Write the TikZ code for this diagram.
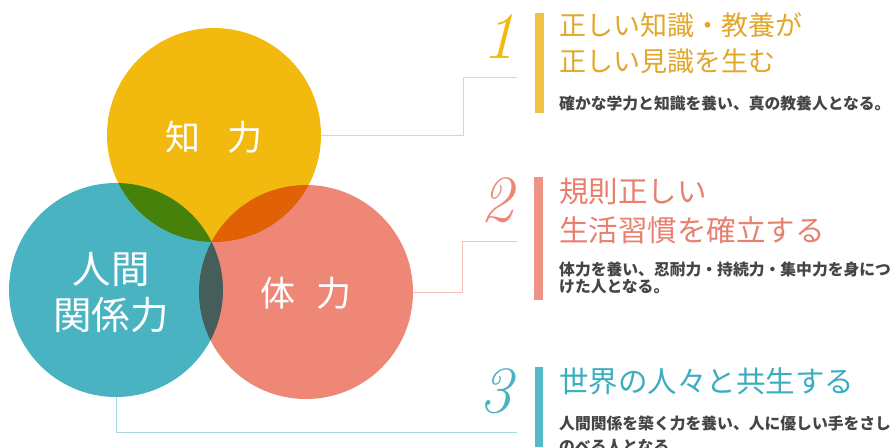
\documentclass[tikz,border=0pt]{standalone}
\usepackage{fontspec}
\newfontfamily\jp{Noto Sans CJK JP}
\usetikzlibrary{positioning}

\definecolor{kiiro}{HTML}{F2B90F}
\definecolor{kiirotext}{HTML}{E2A62A}
\definecolor{kiirobar}{HTML}{F1C242}
\definecolor{kiiroline}{HTML}{F2D490}
\definecolor{sake}{HTML}{EE8776}
\definecolor{saketext}{HTML}{E87F6F}
\definecolor{sakebar}{HTML}{EF9484}
\definecolor{sakeline}{HTML}{F5C1B6}
\definecolor{ao}{HTML}{4AB3C1}
\definecolor{aotext}{HTML}{3AAEBF}
\definecolor{aobar}{HTML}{58B9C6}
\definecolor{aoline}{HTML}{A9D9DF}
\definecolor{desctext}{HTML}{454545}

\begin{document}
\begin{tikzpicture}[x=1pt, y=-1pt]
	\tikzstyle{circ}=[circle, minimum size=214pt, inner sep=0pt]
	\tikzstyle{lbl}=[text=white, align=center, font=\jp\fontsize{35}{47}\selectfont]
	\tikzstyle{num}=[font=\fontsize{66}{66}\selectfont\itshape]
	\tikzstyle{head}=[anchor=north west, align=left, inner sep=0pt, font=\jp\fontsize{28}{37}\selectfont]
	\tikzstyle{desc}=[anchor=north west, align=left, inner sep=0pt, text=desctext]
	\tikzstyle{link}=[line width=1pt]
	\tikzstyle{bar}=[line width=8.5pt]

	\useasboundingbox (0,0) rectangle (896,447);

	% Circles
	\begin{scope}[blend group=multiply]
		\node at (214, 135) [circ, fill=kiiro] (chi) {};
		\node at (116, 290) [circ, fill=ao] (ningen) {};
		\node at (306, 292) [circ, fill=sake] (tai) {};
	\end{scope}
	\node at (chi) [lbl, yshift=-2pt] {知\hspace{0.75em}力};
	\node at (ningen) [lbl, xshift=-5pt, yshift=-3pt, font=\jp\fontsize{38.5}{46}\selectfont] {人間\\関係力};
	\node at (tai) [lbl, yshift=-1pt] {体\hspace{0.6em}力};

	% Links
	\coordinate (k1) at (463, 77);
	\coordinate (k2) at (517, 77);
	\coordinate (s1) at (462, 241);
	\coordinate (s2) at (517, 241);
	\coordinate (a1) at (517, 432);
	\draw [link, kiiroline] (chi.east) -| (k1) -- (k2);
	\draw [link, sakeline] (tai.east) -| (s1) -- (s2);
	\draw [link, aoline] (ningen.south) |- (a1);

	% Numbers and bars
	\node at (499, 37) [num, text=kiiro] (one) {1};
	\node at (497, 200) [num, text=sake] (two) {2};
	\node at (496, 391) [num, text=ao] (three) {3};
	\draw [bar, kiirobar] (539.5, 13) -- (539.5, 113);
	\draw [bar, sakebar] (538.5, 177) -- (538.5, 300);
	\draw [bar, aobar] (539, 367) -- (539, 447);

	% Texts
	\node at (559, 12) [head, text=kiirotext, font=\jp\fontsize{27}{36}\selectfont] (h1) {正しい知識・教養が\\正しい見識を生む};
	\node at (559, 96) [desc, font=\jp\bfseries\fontsize{15.8}{17}\selectfont] (d1) {確かな学力と知識を養い、真の教養人となる。};
	\node at (559, 178) [head, text=saketext, font=\jp\fontsize{29.5}{39}\selectfont] (h2) {規則正しい\\生活習慣を確立する};
	\node at (559, 262) [desc, font=\jp\bfseries\fontsize{15.8}{17}\selectfont] (d2) {体力を養い、忍耐力・持続力・集中力を身につ\\けた人となる。};
	\node at (559, 368) [head, text=aotext, font=\jp\fontsize{29.5}{39}\selectfont] (h3) {世界の人々と共生する};
	\node at (559, 416) [desc, font=\jp\bfseries\fontsize{15.8}{23}\selectfont] (d3) {人間関係を築く力を養い、人に優しい手をさし\\のべる人となる。};
\end{tikzpicture}
\end{document}
